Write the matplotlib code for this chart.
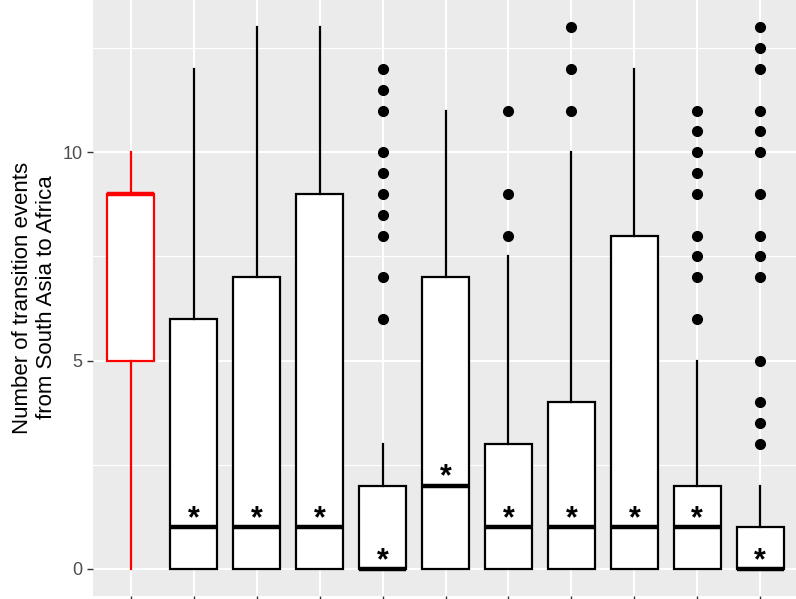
import numpy as np
import matplotlib
matplotlib.use("Agg")
import matplotlib.pyplot as plt

plt.rcParams['font.family'] = ['Liberation Sans', 'DejaVu Sans']

# box statistics (one entry per box)
whisker_low = [0, 0, 0, 0, 0, 0, 0, 0, 0, 0, 0]
q1 = [5, 0, 0, 0, 0, 0, 0, 0, 0, 0, 0]
median = [9, 1, 1, 1, 0, 2, 1, 1, 1, 1, 0]
q3 = [9, 6, 7, 9, 2, 7, 3, 4, 8, 2, 1]
whisker_high = [10, 12, 13, 13, 3, 11, 7.5, 10, 12, 5, 2]
outliers = [
    [],
    [],
    [],
    [],
    [6, 7, 8, 8.5, 9, 9.5, 10, 11, 11.5, 12],
    [],
    [8, 9, 11],
    [11, 12, 13],
    [],
    [6, 7, 7.5, 8, 9, 9.5, 10, 10.5, 11],
    [3, 3.5, 4, 5, 7, 7.5, 8, 9, 10, 10.5, 11, 12, 12.5, 13],
]
starred = [False, True, True, True, True, True, True, True, True, True, True]
box_colors = ['red'] + ['black'] * 10

fig = plt.figure(figsize=(7.96, 5.99), dpi=100)
ax = fig.add_axes([93 / 796, 3 / 599, 705 / 796, 597 / 599])
ax.set_facecolor('#EBEBEB')

ax.set_xlim(0.4, 11.6)
ax.set_ylim(-0.65, 13.68)

# grid like ggplot
for y in [2.5, 7.5, 12.5]:
    ax.axhline(y, color='white', lw=0.8, zorder=0)
for y in [0, 5, 10]:
    ax.axhline(y, color='white', lw=1.5, zorder=0)
for i in range(len(median)):
    ax.axvline(i + 1, color='white', lw=1.5, zorder=0)

stats = []
for i in range(len(median)):
    stats.append({
        'whislo': whisker_low[i], 'q1': q1[i], 'med': median[i],
        'q3': q3[i], 'whishi': whisker_high[i], 'fliers': outliers[i],
    })

for i, st in enumerate(stats):
    c = box_colors[i]
    ax.bxp([st], positions=[i + 1], widths=0.75, showcaps=False,
           patch_artist=True,
           boxprops=dict(facecolor='white', edgecolor=c, linewidth=1.6),
           medianprops=dict(color=c, linewidth=3.2, solid_capstyle='butt'),
           whiskerprops=dict(color=c, linewidth=1.6),
           flierprops=dict(marker='o', markerfacecolor='black',
                           markeredgecolor='black', markersize=7),
           manage_ticks=False)

for i in range(len(median)):
    if starred[i]:
        ax.annotate('*', xy=(i + 1, median[i]), xytext=(0, -5),
                    textcoords='offset points', ha='center', va='bottom',
                    fontsize=22, fontweight='bold', color='black')

ax.set_yticks([0, 5, 10])
ax.set_yticklabels(['0', '5', '10'])
ax.set_xticks(range(1, len(median) + 1))
ax.set_xticklabels([])
ax.tick_params(axis='both', colors='#333333', length=4, width=1.0,
               labelcolor='#4D4D4D', labelsize=13)
for s in ax.spines.values():
    s.set_visible(False)

ax.set_ylabel('Number of transition events\nfrom South Asia to Africa',
              fontsize=16, color='black', labelpad=4)

fig.savefig('out.png', dpi=100)
